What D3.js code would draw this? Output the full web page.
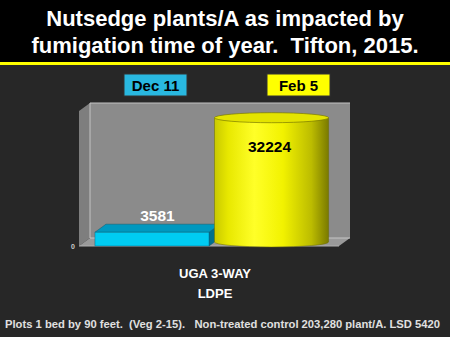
<!DOCTYPE html>
<html><head><meta charset="utf-8">
<script src="https://cdn.jsdelivr.net/npm/d3@7"></script>
<style>html,body{margin:0;padding:0;background:#272727;}svg{display:block;}</style>
</head><body>
<svg id="chart" width="450" height="337"></svg>
<script>
const titleLines = ["Nutsedge plants/A as impacted by", "fumigation time of year.  Tifton, 2015."];
const categories = ["UGA 3-WAY LDPE"];
const categoryLabelLines = ["UGA 3-WAY", "LDPE"];
const series = ["Dec 11", "Feb 5"];
const values = [3581, 32224];
const yTicks = [0];
const footnote = "Plots 1 bed by 90 feet.  (Veg 2-15).   Non-treated control 203,280 plant/A. LSD 5420";

(function () {
const svg = d3.select("#chart");
const font = "'Liberation Sans', Arial, sans-serif";

// background
svg.append("rect").attr("width", 450).attr("height", 337).attr("fill", "#272727");
svg.append("rect").attr("width", 450).attr("height", 62).attr("fill", "#000");
svg.append("rect").attr("y", 62).attr("width", 450).attr("height", 3).attr("fill", "#ffff00");

// title
svg.append("g").selectAll("text").data(titleLines).join("text")
  .attr("x", 225).attr("y", (d, i) => 26 + i * 27)
  .attr("text-anchor", "middle").attr("fill", "#fff")
  .attr("font-family", font).attr("font-weight", "bold").attr("font-size", 22)
  .style("white-space", "pre")
  .text(d => d);

// geometry
const pLeft = 79, pRight = 339, pBottom = 246, pTop = 111;
const dx = 11, dy = 8;
const y = d3.scaleLinear().domain([0, 35000]).range([pBottom, pTop]);
const x0 = d3.scaleBand().domain(categories).range([pLeft, pRight]).paddingInner(0).paddingOuter(0.07);
const x1 = d3.scaleBand().domain(series).range([0, x0.bandwidth()]).padding(0);
const yMaxPx = y(35000);

// walls
const g = svg.append("g");
g.append("polygon").attr("points", [[pLeft, yMaxPx], [pLeft + dx, yMaxPx - dy], [pLeft + dx, pBottom - dy], [pLeft, pBottom]].join(" "))
  .attr("fill", "#7e7e7e");
g.append("rect").attr("x", pLeft + dx).attr("y", yMaxPx - dy).attr("width", pRight - pLeft).attr("height", pBottom - yMaxPx)
  .attr("fill", "#8b8b8b");
g.append("polygon").attr("points", [[pLeft, pBottom], [pLeft + dx, pBottom - dy], [pRight + dx, pBottom - dy], [pRight, pBottom]].join(" "))
  .attr("fill", "#9a9a9a");
g.append("polyline").attr("points", [[pLeft + dx, pBottom - dy], [pLeft + dx, yMaxPx - dy], [pRight + dx, yMaxPx - dy]].join(" "))
  .attr("fill", "none").attr("stroke", "#c4c4c4").attr("stroke-width", 1);
g.append("line").attr("x1", pLeft + dx).attr("x2", pRight + dx).attr("y1", pBottom - dy).attr("y2", pBottom - dy)
  .attr("stroke", "#c4c4c4");
g.append("line").attr("x1", pLeft).attr("x2", pRight).attr("y1", pBottom).attr("y2", pBottom)
  .attr("stroke", "#b0b0b0");

// y axis (only 0 label)
const yAxis = d3.axisLeft(y).tickValues(yTicks).tickSize(0).tickPadding(4);
const ya = svg.append("g").attr("transform", `translate(${pLeft},0)`).call(yAxis);
ya.select(".domain").remove();
ya.selectAll("text").attr("fill", "#ccc").attr("font-family", font).attr("font-weight", "bold").attr("font-size", 7);

// gradient for cylinder
const defs = svg.append("defs");
const grad = defs.append("linearGradient").attr("id", "cyl").attr("x1", "0%").attr("x2", "100%");
[["0%", "#c9c900"], ["12%", "#e8e800"], ["35%", "#ffff28"], ["60%", "#f2f200"], ["85%", "#bcbc00"], ["100%", "#7a7a00"]]
  .forEach(s => grad.append("stop").attr("offset", s[0]).attr("stop-color", s[1]));

const cat = categories[0];
// Dec 11 box
{
  const v = values[0];
  const bx = x0(cat) + x1(series[0]);
  const w = x1.bandwidth();
  const yt = y(v);
  const bg = svg.append("g");
  bg.append("polygon").attr("points", [[bx + w, yt], [bx + w + dx, yt - dy], [bx + w + dx, pBottom - dy], [bx + w, pBottom]].join(" "))
    .attr("fill", "#00708f").attr("stroke", "#0a5a70").attr("stroke-width", 0.5);
  bg.append("polygon").attr("points", [[bx, yt], [bx + dx, yt - dy], [bx + w + dx, yt - dy], [bx + w, yt]].join(" "))
    .attr("fill", "#0098bf").attr("stroke", "#0a5a70").attr("stroke-width", 0.5);
  bg.append("rect").attr("x", bx).attr("y", yt).attr("width", w).attr("height", pBottom - yt)
    .attr("fill", "#00ccf2").attr("stroke", "#0a6a85").attr("stroke-width", 0.5);
  svg.append("text").attr("x", bx + w / 2 + dx / 2).attr("y", yt - dy - 3)
    .attr("text-anchor", "middle").attr("fill", "#fff").attr("font-family", font).attr("font-weight", "bold").attr("font-size", 15.5)
    .text(d3.format("d")(v));
}
// Feb 5 cylinder
{
  const v = values[1];
  const bx = x0(cat) + x1(series[1]);
  const w = x1.bandwidth();
  const rx = w / 2, ry = 5;
  const cx = bx + rx + dx / 2;
  const cyTop = y(v) - dy / 2;
  const cyBot = pBottom - dy / 2;
  const cg = svg.append("g");
  cg.append("path")
    .attr("d", `M${cx - rx},${cyTop} L${cx - rx},${cyBot} A${rx},${ry} 0 0 0 ${cx + rx},${cyBot} L${cx + rx},${cyTop} Z`)
    .attr("fill", "url(#cyl)").attr("stroke", "#6a6a00").attr("stroke-width", 0.5);
  cg.append("ellipse").attr("cx", cx).attr("cy", cyTop).attr("rx", rx).attr("ry", ry)
    .attr("fill", "#e4e400").attr("stroke", "#7a7a00").attr("stroke-width", 0.7);
  svg.append("text").attr("x", cx - 2).attr("y", y(v) + 30)
    .attr("text-anchor", "middle").attr("fill", "#000").attr("font-family", font).attr("font-weight", "bold").attr("font-size", 15.5)
    .text(d3.format("d")(v));
}

// legend
const legendColors = ["#29b8e0", "#ffff00"];
const legendX = [124, 267];
const lg = svg.append("g").selectAll("g").data(series).join("g")
  .attr("transform", (d, i) => `translate(${legendX[i]},74)`);
lg.append("rect").attr("width", 63).attr("height", 22).attr("fill", (d, i) => legendColors[i])
  .attr("stroke", "#333").attr("stroke-width", 1);
lg.append("text").attr("x", 31.5).attr("y", 16.5).attr("text-anchor", "middle")
  .attr("fill", "#000").attr("font-family", font).attr("font-weight", "bold").attr("font-size", 15)
  .text(d => d);

// category label
svg.append("g").selectAll("text").data(categoryLabelLines).join("text")
  .attr("x", x0(cat) + x0.bandwidth() / 2 + 6).attr("y", (d, i) => 278 + i * 20)
  .attr("text-anchor", "middle").attr("fill", "#fff")
  .attr("font-family", font).attr("font-weight", "bold").attr("font-size", 13)
  .text(d => d);

// footnote
svg.append("text").attr("x", 5).attr("y", 328)
  .attr("fill", "#e0e0e0").attr("font-family", font).attr("font-weight", "bold").attr("font-size", 10.5)
  .attr("textLength", 435).attr("lengthAdjust", "spacingAndGlyphs")
  .style("white-space", "pre")
  .text(footnote);
})();
</script>
</body></html>
